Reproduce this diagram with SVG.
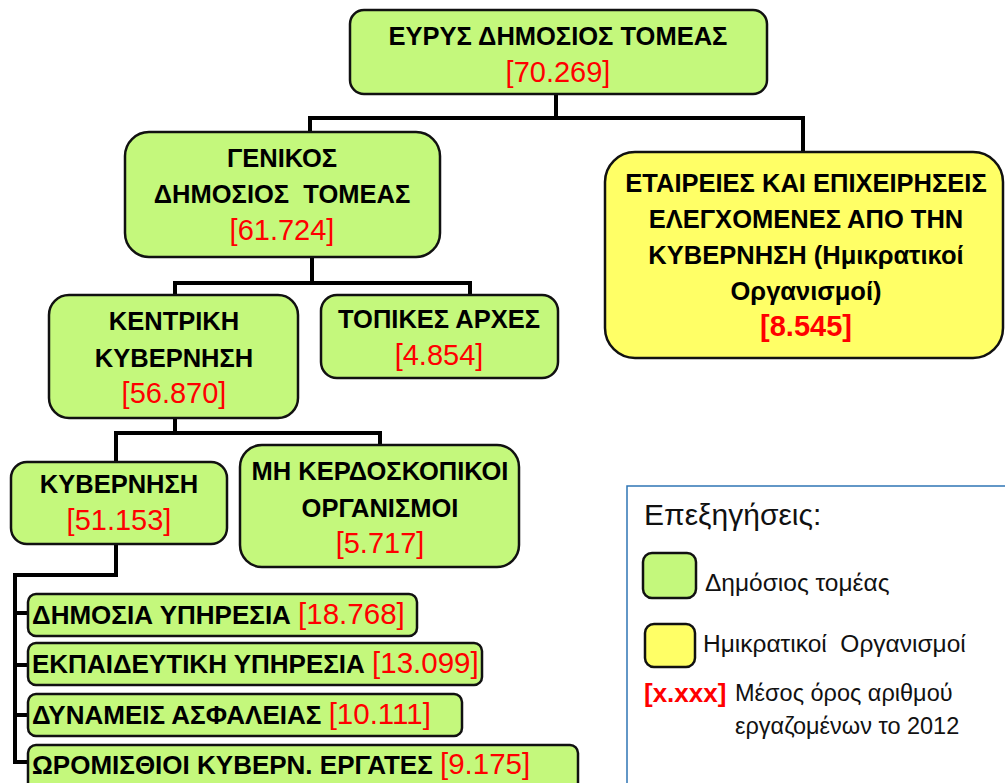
<svg xmlns="http://www.w3.org/2000/svg" width="1005" height="783" viewBox="0 0 1005 783">
<style>
.g{fill:#c4f87c;stroke:#111;stroke-width:2.5}
.y{fill:#ffff66;stroke:#111;stroke-width:2.5}
.t{font-family:"Liberation Sans",Arial,sans-serif;font-weight:bold;font-size:25.5px;fill:#000;text-anchor:middle}
.n{font-family:"Liberation Sans",Arial,sans-serif;font-size:29px;fill:#ff0000;text-anchor:middle}
.lt{font-family:"Liberation Sans",Arial,sans-serif;font-weight:bold;font-size:26px;fill:#000}
.ln{font-weight:normal;font-size:29.5px;fill:#ff0000}
.c{fill:none;stroke:#000;stroke-width:4}
.lg{font-family:"Liberation Sans",Arial,sans-serif;fill:#111}
</style>
<rect width="1005" height="783" fill="#fff"/>
<g id="connectors">
<path class="c" d="M556 94V118M310 118H803M310 116V133M803 116V152"/>
<path class="c" d="M312 257V283M175 283H470M175 281V296M470 281V296"/>
<path class="c" d="M175 418V433M116 433H380M116 431V462M380 431V445"/>
<path class="c" d="M116 544V575M13 575H118M15 573V764M13 613H29M13 665H29M13 715H29M13 762H29"/>
</g>
<g id="n-evrys">
<rect class="g" x="350" y="10" width="417" height="84" rx="14"/>
<text class="t" x="558" y="45">ΕΥΡΥΣ ΔΗΜΟΣΙΟΣ ΤΟΜΕΑΣ</text>
<text class="n" x="558" y="82">[70.269]</text>
</g>
<g id="n-genikos">
<rect class="g" x="125" y="132" width="315" height="125" rx="24"/>
<text class="t" x="282" y="167">ΓΕΝΙΚΟΣ</text>
<text class="t" x="282" y="203" xml:space="preserve">ΔΗΜΟΣΙΟΣ  ΤΟΜΕΑΣ</text>
<text class="n" x="282" y="240">[61.724]</text>
</g>
<g id="n-etaireies">
<rect class="y" x="605" y="152" width="398" height="206" rx="30"/>
<text class="t" x="806" y="192">ΕΤΑΙΡΕΙΕΣ ΚΑΙ ΕΠΙΧΕΙΡΗΣΕΙΣ</text>
<text class="t" x="806" y="228">ΕΛΕΓΧΟΜΕΝΕΣ ΑΠΟ ΤΗΝ</text>
<text class="t" x="806" y="264">ΚΥΒΕΡΝΗΣΗ (Ημικρατικοί</text>
<text class="t" x="806" y="300">Οργανισμοί)</text>
<text class="n" x="806" y="336" font-weight="bold">[8.545]</text>
</g>
<g id="n-kentriki">
<rect class="g" x="49" y="295" width="249" height="123" rx="20"/>
<text class="t" x="174" y="330">ΚΕΝΤΡΙΚΗ</text>
<text class="t" x="174" y="367">ΚΥΒΕΡΝΗΣΗ</text>
<text class="n" x="174" y="403">[56.870]</text>
</g>
<g id="n-topikes">
<rect class="g" x="321" y="295" width="237" height="83" rx="16"/>
<text class="t" x="439" y="328">ΤΟΠΙΚΕΣ ΑΡΧΕΣ</text>
<text class="n" x="439" y="365">[4.854]</text>
</g>
<g id="n-kyvernisi">
<rect class="g" x="11" y="462" width="216" height="82" rx="16"/>
<text class="t" x="119" y="493">ΚΥΒΕΡΝΗΣΗ</text>
<text class="n" x="119" y="530">[51.153]</text>
</g>
<g id="n-mi-kerdoskopikoi">
<rect class="g" x="240" y="445" width="279" height="122" rx="22"/>
<text class="t" x="380" y="480">ΜΗ ΚΕΡΔΟΣΚΟΠΙΚΟΙ</text>
<text class="t" x="380" y="517">ΟΡΓΑΝΙΣΜΟΙ</text>
<text class="n" x="380" y="553">[5.717]</text>
</g>
<g id="n-dimosia">
<rect class="g" x="28" y="594" width="389" height="42" rx="8"/>
<text class="lt" x="32" y="624">ΔΗΜΟΣΙΑ ΥΠΗΡΕΣΙΑ <tspan class="ln">[18.768]</tspan></text>
</g>
<g id="n-ekpaideftiki">
<rect class="g" x="28" y="643" width="454" height="42" rx="8"/>
<text class="lt" x="32" y="673">ΕΚΠΑΙΔΕΥΤΙΚΗ ΥΠΗΡΕΣΙΑ <tspan class="ln">[13.099]</tspan></text>
</g>
<g id="n-dynameis">
<rect class="g" x="28" y="694" width="434" height="42" rx="8"/>
<text class="lt" x="32" y="724">ΔΥΝΑΜΕΙΣ ΑΣΦΑΛΕΙΑΣ <tspan class="ln">[10.111]</tspan></text>
</g>
<g id="n-oromisthioi">
<rect class="g" x="28" y="745" width="550" height="50" rx="8"/>
<text class="lt" x="32" y="774">ΩΡΟΜΙΣΘΙΟΙ ΚΥΒΕΡΝ. ΕΡΓΑΤΕΣ <tspan class="ln">[9.175]</tspan></text>
</g>
<g id="legend">
<rect x="627" y="486" width="400" height="320" fill="#fff" stroke="#2f75b5" stroke-width="1.5"/>
<text class="lg" x="644" y="525" font-size="30">Επεξηγήσεις:</text>
<rect x="643" y="553" width="53" height="45" rx="9" fill="#c4f87c" stroke="#111" stroke-width="2.5"/>
<text class="lg" x="705" y="591" font-size="24.5">Δημόσιος τομέας</text>
<rect x="645" y="624" width="50" height="43" rx="9" fill="#ffff66" stroke="#111" stroke-width="2.5"/>
<text class="lg" x="703" y="652" font-size="24.5" xml:space="preserve">Ημικρατικοί  Οργανισμοί</text>
<text x="644" y="702" font-family="Liberation Sans, Arial, sans-serif" font-weight="bold" font-size="26" fill="#ff0000">[x.xxx]</text>
<text class="lg" x="735" y="701" font-size="23.5">Μέσος όρος αριθμού</text>
<text class="lg" x="735" y="734" font-size="23.5">εργαζομένων το 2012</text>
</g>
</svg>
